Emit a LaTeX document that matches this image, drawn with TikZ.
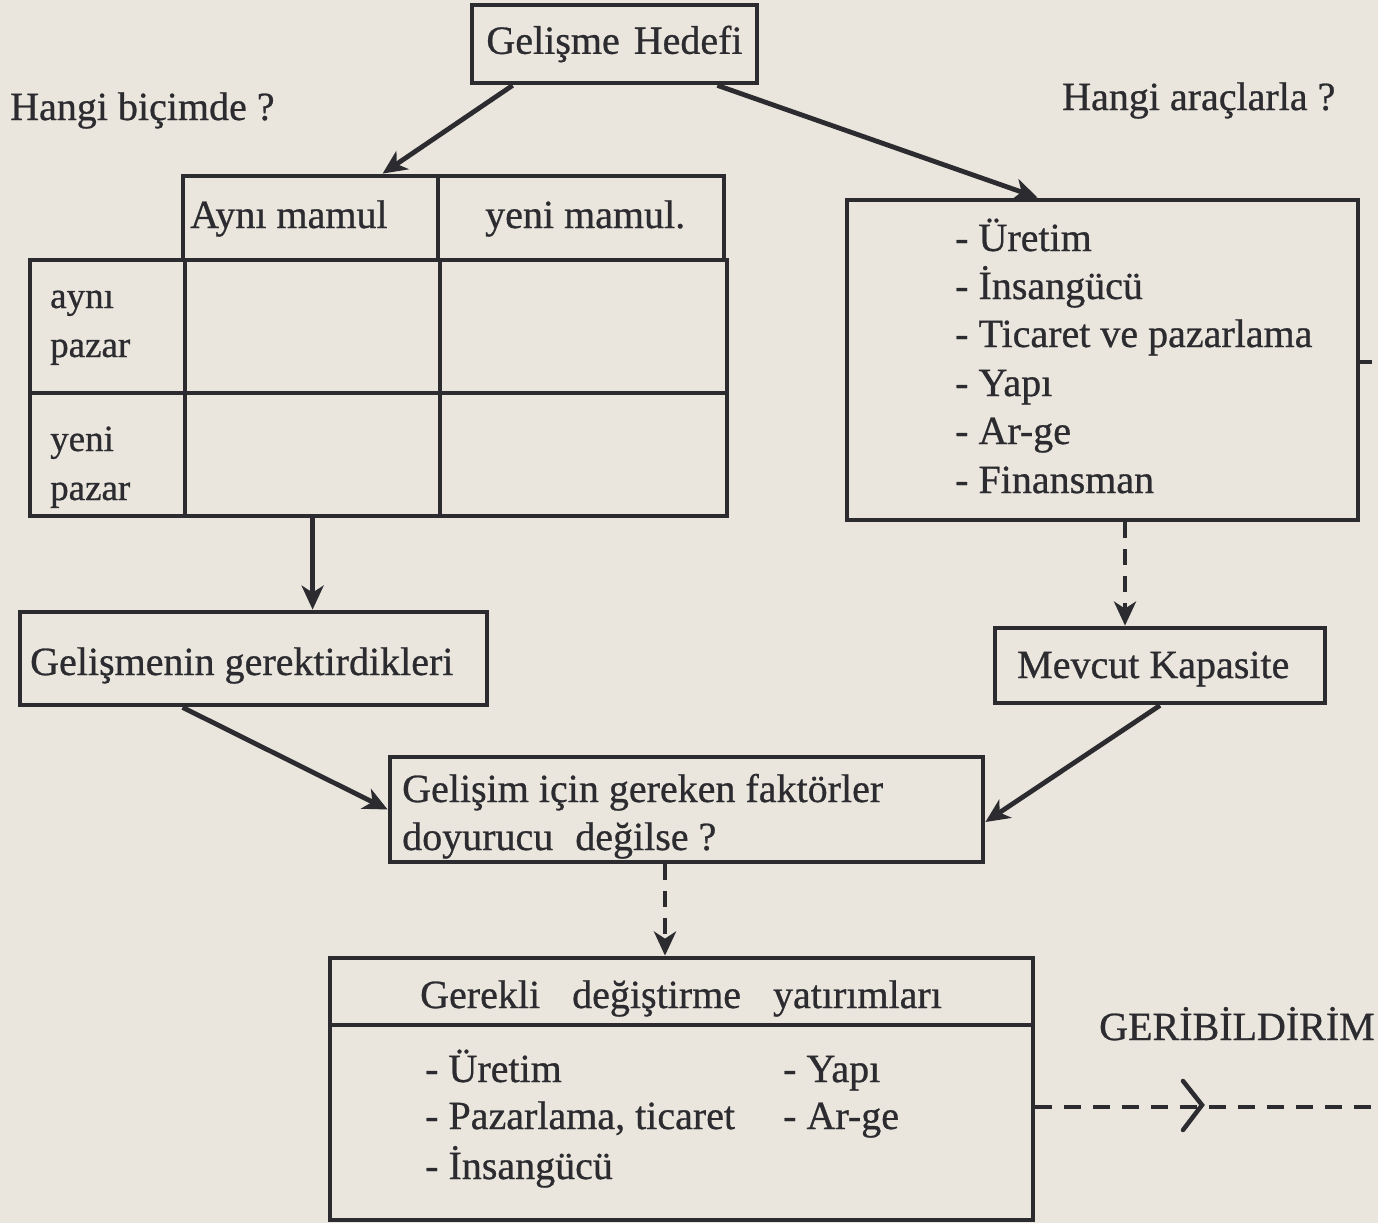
\documentclass[tikz,border=0pt]{standalone}
\usepackage{fontspec}
\setmainfont{Liberation Serif}[FakeBold=0.7]
\usetikzlibrary{arrows.meta}
\definecolor{paper}{HTML}{EAE6DD}
\definecolor{ink}{HTML}{2B2B30}
\tikzset{
  box/.style={draw=ink, line width=4.8pt, inner sep=0pt, rectangle},
  txt/.style={anchor=base west, inner sep=0pt, text=ink, font=\fontsize{40}{48}\selectfont},
  smalltxt/.style={anchor=base west, inner sep=0pt, text=ink, font=\fontsize{37}{44}\selectfont},
  ln/.style={draw=ink, line width=4.8pt},
  arr/.style={draw=ink, line width=4.8pt, -{Stealth[length=24pt,width=22pt,inset=7pt]}},
  dsharr/.style={draw=ink, line width=4.8pt, dash pattern=on 16pt off 11pt, -{Stealth[length=24pt,width=22pt,inset=7pt]}},
  dsh/.style={draw=ink, line width=3.8pt, dash pattern=on 17pt off 12pt},
}
\begin{document}
\begin{tikzpicture}[x=1pt,y=-1pt]
\useasboundingbox (0,0) rectangle (1378,1223);
\fill[paper] (0,0) rectangle (1378,1223);

% top box
\node[box, minimum width=285pt, minimum height=78pt, text=ink, font=\fontsize{40}{48}\selectfont] (hedef) at (614.5,44) {Gelişme\hspace{0.35em}Hedefi};

\node[txt] (q1) at (10,120) {Hangi biçimde ?};
\node[txt] (q2) at (1062,110) {Hangi araçlarla ?};

% table
\node[box, minimum width=541pt, minimum height=84pt] (hdr) at (453.5,218) {};
\node[box, minimum width=697pt, minimum height=256pt] (tbl) at (378.5,388) {};
\draw[ln] (438,176) -- (438,260);
\draw[ln] (185,260) -- (185,516);
\draw[ln] (440,260) -- (440,516);
\draw[ln] (30,393) -- (727,393);
\node[txt] (c1) at (190,228) {Aynı mamul};
\node[txt] (c2) at (485,228) {yeni mamul.};
\node[smalltxt] (r1a) at (50,308) {aynı};
\node[smalltxt] (r1b) at (50,357) {pazar};
\node[smalltxt] (r2a) at (50,451) {yeni};
\node[smalltxt] (r2b) at (50,500) {pazar};

% right box
\node[box, minimum width=511pt, minimum height=320pt] (arac) at (1102.5,360) {};
\node[txt] (a1) at (955,251) {- Üretim};
\node[txt] (a2) at (955,299) {- İnsangücü};
\node[txt] (a3) at (955,347) {- Ticaret ve pazarlama};
\node[txt] (a4) at (955,396) {- Yapı};
\node[txt] (a5) at (955,444) {- Ar-ge};
\node[txt] (a6) at (955,493) {- Finansman};
\draw[ln] (arac.east |- 0,362) -- (1372,362);

% second row boxes
\node[box, minimum width=467pt, minimum height=93pt] (gerek) at (253.5,658.5) {};
\node[txt] (gt) at (30,675) {Gelişmenin gerektirdikleri};
\node[box, minimum width=330pt, minimum height=75pt] (kap) at (1160,665.5) {};
\node[txt] (kt) at (1017,678) {Mevcut Kapasite};

% middle box
\node[box, minimum width=593pt, minimum height=105pt] (mid) at (686.5,809.5) {};
\node[txt] (m1) at (402,802) {Gelişim için gereken faktörler};
\node[txt] (m2) at (402,850) {doyurucu\hspace{0.3em} değilse ?};

% bottom box
\node[box, minimum width=703pt, minimum height=262pt] (yat) at (681.5,1089) {};
\draw[ln] (330,1025) -- (1033,1025);
\node[txt] (yt) at (420,1008) {Gerekli\hspace{0.8em}değiştirme\hspace{0.8em}yatırımları};
\node[txt] (y1) at (425,1082) {- Üretim};
\node[txt] (y2) at (425,1129) {- Pazarlama, ticaret};
\node[txt] (y3) at (425,1179) {- İnsangücü};
\node[txt] (y4) at (783,1082) {- Yapı};
\node[txt] (y5) at (783,1129) {- Ar-ge};

\node[txt] (geri) at (1099,1040) {GERİBİLDİRİM};

% connectors
\draw[arr] ([xshift=43pt]hedef.south west) -- ([xshift=202pt]hdr.north west);
\draw[arr] ([xshift=-42pt]hedef.south east) -- ([xshift=193pt]arac.north west);
\draw[arr] ([xshift=285pt]tbl.south west) -- ([xshift=295pt]gerek.north west);
\draw[dsharr] ([xshift=22.5pt]arac.south) -- ([xshift=-35pt]kap.north);
\draw[arr] ([xshift=165pt]gerek.south west) -- (mid.west);
\draw[arr] (kap.south) -- ([yshift=-12.5pt]mid.east);
\draw[dsharr] ([xshift=-21.5pt]mid.south) -- ([xshift=-16.5pt]yat.north);

% feedback
\coordinate (fbend) at (1378,1107);
\draw[dsh] ([yshift=-18pt]yat.east) -- (fbend);
\coordinate (chev) at (1202,1105);
\draw[ln, line width=4.5pt, line cap=round] (1183,1081) -- (chev) -- (1183,1130);
\end{tikzpicture}
\end{document}
